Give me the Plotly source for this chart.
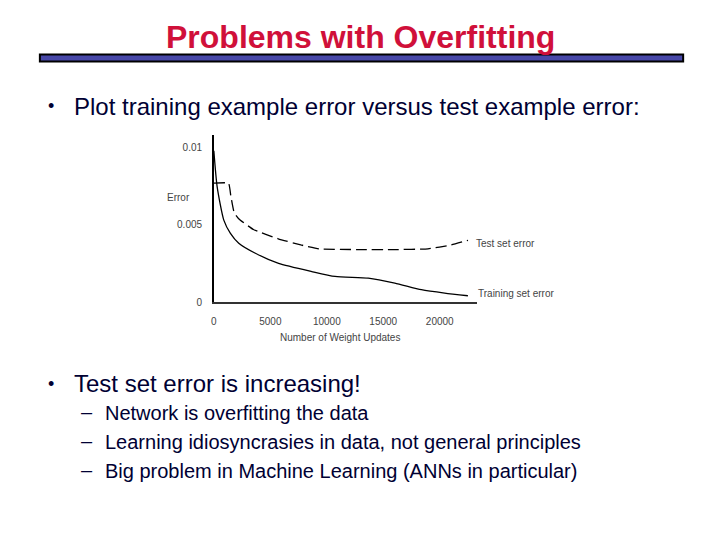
import plotly.graph_objects as go

# ---- data ----
train_x = [0, 294, 882, 1470, 2205, 3675, 5733, 8673, 10731, 13671, 16023, 18375, 20433, 22491]
train_y = [0.0098, 0.00746, 0.00531, 0.00445, 0.00381, 0.00316, 0.00251, 0.00198, 0.00166,
           0.00155, 0.00123, 0.00080, 0.00058, 0.00041]
test_x = [0, 1300, 1500, 1800, 2200, 3500, 5700, 7700, 9300, 13000, 16000, 18960, 21000, 22500]
test_y = [0.0077, 0.0077, 0.0069, 0.0058, 0.0054, 0.0047, 0.0041, 0.0037, 0.00345,
          0.0034, 0.0034, 0.00345, 0.0037, 0.0040]
x_ticks = [0, 5000, 10000, 15000, 20000]
x_tick_text = ["0", "5000", "10000", "15000", "20000"]
y_ticks = [0, 0.005, 0.01]
y_tick_text = ["0", "0.005", "0.01"]

OFF = 8  # page body margin
W, H = 720 - OFF, 540 - OFF
def px(x):
    return (x - OFF) / W
def py(y):
    y = y + 1 + (y - 36) * 0.008
    return 1 - (y - OFF) / H

fig = go.Figure()
fig.add_trace(go.Scatter(x=train_x, y=train_y, mode="lines",
                         line=dict(color="black", width=1.3, shape="spline", smoothing=0.6), showlegend=False))
fig.add_trace(go.Scatter(x=test_x, y=test_y, mode="lines",
                         line=dict(color="black", width=1.3, dash="11px,5px", shape="spline", smoothing=0.4), showlegend=False))

tick_font = dict(family="Liberation Sans, Arial", size=10, color="#444")
fig.update_layout(
    width=W, height=H, margin=dict(l=0, r=0, t=0, b=0),
    paper_bgcolor="white", plot_bgcolor="white",
    xaxis=dict(domain=[px(211.7), px(476)], range=[0, 23300], showgrid=False, zeroline=False,
               showline=True, linecolor="#333", linewidth=2,
               tickvals=x_ticks, ticktext=x_tick_text, ticks="outside", ticklen=9, tickcolor="rgba(0,0,0,0)",
               tickfont=tick_font),
    yaxis=dict(domain=[py(302.3), py(135)], range=[0, 0.0108], showgrid=False, zeroline=False,
               showline=True, linecolor="black", linewidth=1.5,
               tickvals=y_ticks, ticktext=y_tick_text, ticks="outside", ticklen=8, tickcolor="rgba(0,0,0,0)",
               tickfont=tick_font),
)

ann = []
def text(x, y, s, size, color="#000033", anchor="left", bold=False, family="Liberation Sans, Arial"):
    if anchor == "left":
        x -= 2
    ann.append(dict(x=px(x), y=py(y), xref="paper", yref="paper", text=("<b>%s</b>" % s) if bold else s,
                    showarrow=False, xanchor=anchor, yanchor="middle",
                    font=dict(family=family, size=size, color=color)))

text(359, 36, "Problems with Overfitting", 32, color="#d0103a", anchor="center", bold=True)
text(48, 106, "•", 18, anchor="center")
text(71, 106, "Plot training example error versus test example error:", 24)
text(48, 384, "•", 18, anchor="center")
text(71, 384, "Test set error is increasing!", 24)
subs = ["Network is overfitting the data",
        "Learning idiosyncrasies in data, not general principles",
        "Big problem in Machine Learning (ANNs in particular)"]
for i, s in enumerate(subs):
    yy = 414 + i * 29
    text(84, yy - 1, "–", 20, anchor="center")
    text(102, yy, s, 20)

text(176, 197, "Error", 10, color="#444", anchor="center")
text(338, 338, "Number of Weight Updates", 10, color="#444", anchor="center")
text(475, 244, "Test set error", 10, color="#444")
text(477, 294, "Training set error", 10, color="#444")

fig.update_layout(annotations=ann, shapes=[
    dict(type="rect", xref="paper", yref="paper", x0=px(37), x1=px(683), y0=py(61), y1=py(54),
         fillcolor="#4848a8", line=dict(color="black", width=2))
])

fig.write_html("out.html")
